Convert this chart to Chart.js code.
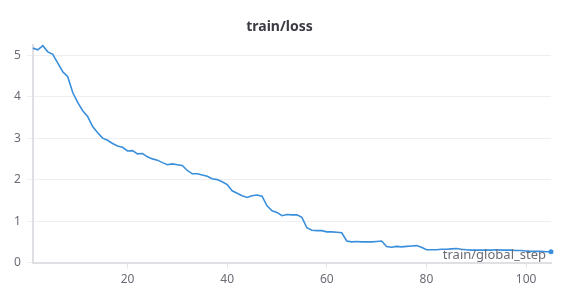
<!DOCTYPE html>
<html>
<head>
<meta charset="utf-8">
<title>train/loss</title>
<script src="https://cdn.jsdelivr.net/npm/chart.js@4/dist/chart.umd.min.js"></script>
<style>
    html, body { margin: 0; padding: 0; background: #fff; }
    #chartWrap { width: 571px; height: 300px; }
</style>
</head>
<body>
<div id="chartWrap"><canvas id="lossChart"></canvas></div>
<script>
// data
const steps = [1, 2, 3, 4, 5, 6, 7, 8, 9, 10, 11, 12, 13, 14, 15, 16, 17, 18, 19, 20,
    21, 22, 23, 24, 25, 26, 27, 28, 29, 30, 31, 32, 33, 34, 35, 36, 37, 38, 39, 40,
    41, 42, 43, 44, 45, 46, 47, 48, 49, 50, 51, 52, 53, 54, 55, 56, 57, 58, 59, 60,
    61, 62, 63, 64, 65, 66, 67, 68, 69, 70, 71, 72, 73, 74, 75, 76, 77, 78, 79, 80,
    81, 82, 83, 84, 85, 86, 87, 88, 89, 90, 91, 92, 93, 94, 95, 96, 97, 98, 99, 100,
    101, 102, 103, 104, 105];
const lossValues = [5.17, 5.13, 5.23, 5.08, 5.02, 4.81, 4.60, 4.48, 4.10, 3.86,
    3.66, 3.52, 3.28, 3.13, 3.00, 2.95, 2.87, 2.81, 2.78, 2.69,
    2.70, 2.62, 2.63, 2.55, 2.50, 2.47, 2.41, 2.36, 2.38, 2.36,
    2.34, 2.22, 2.14, 2.14, 2.11, 2.08, 2.02, 2.00, 1.95, 1.88,
    1.73, 1.67, 1.61, 1.57, 1.61, 1.63, 1.60, 1.37, 1.25, 1.21,
    1.13, 1.16, 1.15, 1.15, 1.09, 0.84, 0.78, 0.77, 0.77, 0.74,
    0.74, 0.73, 0.72, 0.52, 0.50, 0.51, 0.50, 0.50, 0.50, 0.51,
    0.52, 0.39, 0.37, 0.39, 0.38, 0.39, 0.40, 0.41, 0.37, 0.31,
    0.31, 0.31, 0.32, 0.32, 0.33, 0.34, 0.32, 0.31, 0.30, 0.30,
    0.30, 0.30, 0.30, 0.31, 0.30, 0.30, 0.30, 0.29, 0.29, 0.28,
    0.27, 0.27, 0.27, 0.26, 0.26];
const xTicks = [20, 40, 60, 80, 100];
const yTicks = [0, 1, 2, 3, 4, 5];

const chartTitle = 'train/loss';
const xAxisName = 'train/global_step';

document.addEventListener('DOMContentLoaded', function () {
    drawLossChart('lossChart');
});

// x axis name sits inside the plot, bottom right, like wandb does it
const cornerLabelPlugin = {
    id: 'cornerLabel',
    afterDatasetsDraw(chart) {
        const ctx = chart.ctx;
        const area = chart.chartArea;
        ctx.save();
        ctx.font = '13px "Noto Sans"';
        ctx.fillStyle = '#6b6b76';
        ctx.textAlign = 'right';
        ctx.textBaseline = 'bottom';
        ctx.fillText(xAxisName, area.right - 5, area.bottom - 1);
        ctx.restore();
    }
};

function drawLossChart(canvasId) {
    const canvas = document.getElementById(canvasId);
    if (!canvas) {
        console.error(`Canvas with ID '${canvasId}' not found.`);
        return;
    }
    const ctx = canvas.getContext('2d');
    const lastIndex = lossValues.length - 1;

    new Chart(ctx, {
        type: 'line',
        data: {
            labels: steps,
            datasets: [
                {
                    label: chartTitle,
                    data: steps.map((s, i) => ({ x: s, y: lossValues[i] })),
                    borderColor: '#3a8fdc',
                    backgroundColor: '#3a8fdc',
                    borderWidth: 1.6,
                    tension: 0,
                    clip: false,
                    pointRadius: c => (c.dataIndex === lastIndex ? 2.5 : 0),
                    pointBorderWidth: 0,
                    pointHoverRadius: 0,
                },
            ],
        },
        options: {
            responsive: true,
            maintainAspectRatio: false,
            animation: false,
            layout: { padding: { left: 8, right: 20, top: 0, bottom: 9 } },
            plugins: {
                legend: { display: false },
                tooltip: { enabled: false },
                title: {
                    display: true,
                    text: chartTitle,
                    color: '#3b3b44',
                    font: { family: 'Noto Sans', size: 14, weight: 'bold' },
                    padding: { top: 19, bottom: 9 },
                },
            },
            scales: {
                x: {
                    type: 'linear',
                    min: 1,
                    max: 105,
                    afterBuildTicks: scale => {
                        scale.ticks = xTicks.map(v => ({ value: v }));
                    },
                    grid: {
                        drawOnChartArea: false,
                        drawTicks: true,
                        tickLength: 6,
                        color: '#e6e6e9',
                    },
                    border: { color: '#e0e0e4', width: 2 },
                    ticks: {
                        color: '#6b6b76',
                        font: { family: 'Noto Sans', size: 12 },
                        padding: 4,
                        maxRotation: 0,
                    },
                },
                y: {
                    min: 0,
                    max: 5.25,
                    afterBuildTicks: scale => {
                        scale.ticks = yTicks.map(v => ({ value: v }));
                    },
                    grid: {
                        color: '#efeff1',
                        tickLength: 6,
                    },
                    border: { color: '#e0e0e4', width: 2 },
                    ticks: {
                        color: '#6b6b76',
                        font: { family: 'Noto Sans', size: 12 },
                        padding: 6,
                    },
                },
            },
        },
        plugins: [cornerLabelPlugin],
    });
}
</script>
</body>
</html>
